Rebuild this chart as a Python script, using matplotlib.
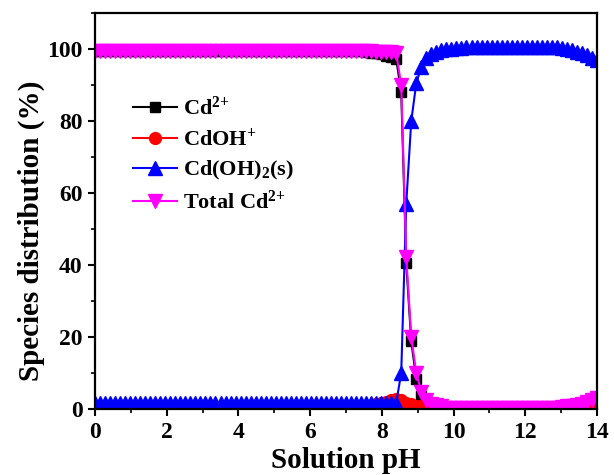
import numpy as np
import matplotlib
matplotlib.use("Agg")
import matplotlib.pyplot as plt
from matplotlib.ticker import MultipleLocator

# pH grid of the speciation calculation (101 points, 0.14 apart)
ph = np.linspace(0, 14, 101)

# species distribution (%)
cd2 = ([99.4] * 54
       + [99.2, 99.0, 98.8, 98.5, 98.1, 97.7, 97.2, 88.0, 40.5, 18.8,
          8.3, 3.5, 1.6, 0.8, 0.5, 0.4]
       + [0.3] * 31)

cdoh = ([0.2] * 50
        + [0.3, 0.4, 0.5, 0.6, 0.8, 1.0, 1.3, 1.6, 2.0, 2.4, 2.8, 2.5,
           1.8, 1.3, 0.9, 0.7, 0.6]
        + [0.6] * 34)

cdoh2 = ([1.7] * 61
         + [10.0, 57.0, 80.0, 90.5, 95.0, 97.5, 98.6, 99.2, 99.6, 99.9,
            100.1, 100.3, 100.4]
         + [100.5] * 19
         + [100.3, 100.0, 99.7, 99.3, 98.8, 98.2, 97.6, 96.9])

total = ([99.4] * 54
         + [99.4, 99.4, 99.3, 99.3, 99.2, 99.1, 98.9, 90.0, 42.3, 20.0,
            10.0, 4.8, 2.6, 1.5, 1.0, 0.7]
         + [0.4] * 23
         + [0.6, 0.7, 0.9, 1.2, 1.5, 1.9, 2.4, 3.0])

labels = [r'Cd$^{2{+}}$', r'CdOH$^{+}$', r'Cd(OH)$_{2}$(s)', r'Total Cd$^{2{+}}$']

plt.rcParams['font.family'] = ['Liberation Serif', 'DejaVu Serif']
plt.rcParams['font.weight'] = 'bold'
plt.rcParams['mathtext.fontset'] = 'custom'
plt.rcParams['mathtext.rm'] = 'Liberation Serif:bold'
plt.rcParams['mathtext.it'] = 'Liberation Serif:bold'
plt.rcParams['mathtext.bf'] = 'Liberation Serif:bold'

fig = plt.figure(figsize=(6.14, 4.75), dpi=100)
ax = fig.add_axes([95 / 614, 1 - 409 / 475, 502 / 614, 396 / 475])

ax.plot(ph, cd2, color='black', marker='s', ms=7, lw=1.5, label=labels[0])
ax.plot(ph, cdoh, color='#ff0000', marker='o', ms=8.5, lw=1.5, label=labels[1])
ax.plot(ph, cdoh2, color='#0000ff', marker='^', ms=9.5, lw=1.5, label=labels[2])
ax.plot(ph, total, color='#ff00ff', marker='v', ms=9.5, lw=1.5, label=labels[3])

ax.set_xlim(0, 14)
ax.set_ylim(0, 110)
ax.xaxis.set_major_locator(MultipleLocator(2))
ax.xaxis.set_minor_locator(MultipleLocator(1))
ax.yaxis.set_minor_locator(MultipleLocator(10))
ax.set_yticks([0, 20, 40, 60, 80, 100])
ax.tick_params(which='major', direction='out', length=5, width=1.5, labelsize=17, pad=4)
ax.tick_params(which='minor', direction='out', length=3, width=1.2)
ax.tick_params(top=False, right=False, which='both')
for s in ax.spines.values():
    s.set_linewidth(1.6)

ax.set_xlabel('Solution pH', fontsize=21, fontweight='bold', labelpad=3)
ax.set_ylabel('Species distribution (%)', fontsize=21, fontweight='bold')
ax.yaxis.set_label_coords(-0.10, 0.45)

ax.legend(loc='upper left', bbox_to_anchor=(0.075, 0.79), frameon=False,
          fontsize=16, handlelength=2.0, handletextpad=0.25, labelspacing=0.38,
          borderpad=0, borderaxespad=0)

fig.savefig('out.png', dpi=100)
